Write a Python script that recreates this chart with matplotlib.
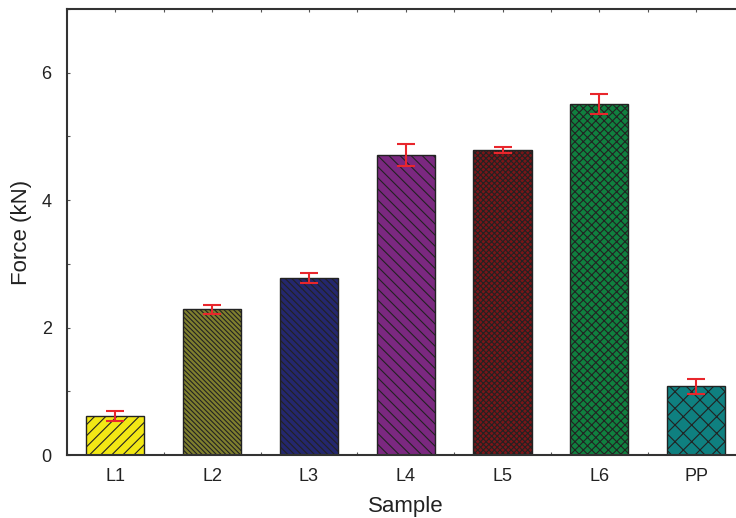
import matplotlib.pyplot as plt
from matplotlib.ticker import MultipleLocator

plt.rcParams['font.family'] = ['Liberation Sans', 'DejaVu Sans']
plt.rcParams['hatch.linewidth'] = 0.8

# sample names, mean force and error
samples = ['L1', 'L2', 'L3', 'L4', 'L5', 'L6', 'PP']
force = [0.61, 2.29, 2.78, 4.71, 4.79, 5.51, 1.08]
err = [0.075, 0.07, 0.083, 0.17, 0.05, 0.15, 0.12]

colors = ['#f2e815', '#7f7f2e', '#24276e', '#7b2880', '#7a1518', '#10803f', '#0f8080']
hatches = ['///', '\\' * 7, '\\' * 5, '\\' * 3, 'x' * 6, 'x' * 4, 'xx']

fig = plt.figure(figsize=(7.36, 5.18), dpi=100)
ax = fig.add_axes([0.091, 0.1216, 0.9205, 0.861])

x = range(len(samples))
for i in x:
    ax.bar(i, force[i], width=0.6, color=colors[i], hatch=hatches[i],
           edgecolor='#222222', linewidth=1.0, zorder=2)
ax.errorbar(list(x), force, yerr=err, fmt='none', ecolor='#e8262c',
            elinewidth=1.5, capsize=6.5, capthick=1.5, zorder=3)

ax.set_xlim(-0.5, 6.5)
ax.set_ylim(0, 7)
ax.set_xticks(list(x))
ax.set_xticklabels(samples)
ax.xaxis.set_minor_locator(MultipleLocator(0.5))
ax.set_yticks([0, 2, 4, 6])
ax.yaxis.set_minor_locator(MultipleLocator(1))

ax.tick_params(which='both', direction='in', top=True, right=False,
               length=2, width=0.8, color='#555555', labelsize=13,
               labelcolor='#222222')
ax.tick_params(axis='x', pad=9)
ax.tick_params(axis='y', pad=11)

for s in ['left', 'top', 'bottom']:
    ax.spines[s].set_linewidth(1.5)
    ax.spines[s].set_color('#333333')
ax.spines['right'].set_visible(False)

ax.set_xlabel('Sample', fontsize=16, color='#222222', labelpad=8)
ax.set_ylabel('Force (kN)', fontsize=16, color='#222222', labelpad=7)

fig.savefig('out.png', dpi=100)
